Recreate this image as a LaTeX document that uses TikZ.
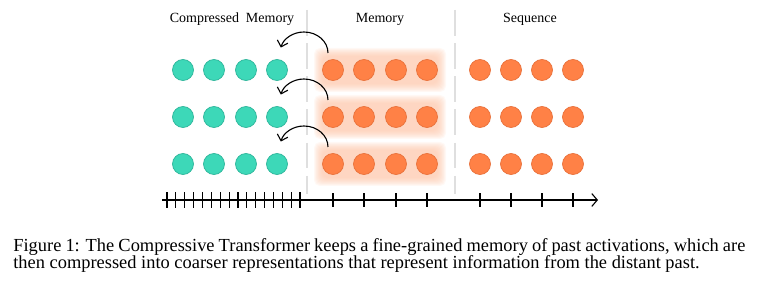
\documentclass[tikz,border=0pt]{standalone}
\usepackage{fontspec}
\setmainfont{Liberation Serif}
\usetikzlibrary{arrows.meta,positioning,calc}
\definecolor{CM}{HTML}{3DD8B8}
\definecolor{CMd}{HTML}{2EB59B}
\definecolor{MO}{HTML}{FF8146}
\definecolor{MOd}{HTML}{E9713B}
\definecolor{GL}{HTML}{FDC4A6}

\begin{document}
\begin{tikzpicture}[x=0.543pt,y=0.543pt,
    dot/.style={circle,minimum size=11.4pt,inner sep=0pt,line width=0.4pt},
    cdot/.style={dot,fill=CM,draw=CMd},
    mdot/.style={dot,fill=MO,draw=MOd},
    lbl/.style={font=\fontsize{7.6}{9}\selectfont,anchor=base,inner sep=0pt},
    captext/.style={font=\fontsize{10}{11}\selectfont,anchor=base west,inner sep=0pt},
    sep/.style={gray!25,line width=0.6pt,dash pattern=on 14pt off 4pt},
    curl/.style={line width=0.6pt,-{Straight Barb[length=3pt,width=6pt]}}]
  \useasboundingbox (0,0) rectangle (758,287);
  % soft glow behind the memory slots
  \foreach \y in {217,170,123}{
    \foreach \k in {0,...,9}{
      \pgfmathsetmacro{\d}{(10-\k)*0.9}
      \fill[GL,opacity=0.11,rounded corners=3pt]
        (323-\d,\y-13-\d) rectangle (437+\d,\y+13+\d);
    }
  }
  \draw[sep] (307,277) -- (307,93);
  \draw[sep] (455,277) -- (455,93);
  % headers
  \node[lbl] (lcomp) at (232,264) {Compressed\ \ Memory};
  \node[lbl] (lmem) at (380,264) {Memory};
  \node[lbl] (lseq) at (530,264) {Sequence};
  % rows of activations
  \foreach \r/\y in {1/217,2/170,3/123}{
    \foreach \i/\x in {1/183,2/214,3/246,4/277}
      \node[cdot] (c\r\i) at (\x,\y) {};
    \foreach \i/\x in {1/333,2/364,3/396,4/427}
      \node[mdot] (m\r\i) at (\x,\y) {};
    \foreach \i/\x in {1/480,2/511,3/542,4/573}
      \node[mdot] (s\r\i) at (\x,\y) {};
    \coordinate (a\r) at ($(m\r1.center)+(-5,17)$);
    \draw[curl] (a\r) arc[start angle=0,end angle=165,x radius=24,y radius=21];
  }
  % time axis
  \coordinate (ax0) at (162,87);
  \coordinate (ax1) at (598,87);
  \draw[line width=0.6pt,-{Straight Barb[length=3pt,width=7pt]}] (ax0) -- (ax1);
  \foreach \i in {0,...,15}
    \draw[line width=0.6pt] (167+\i*8.87,79) -- ++(0,16);
  \foreach \x in {333,364,396,427,480,511,542,573}
    \draw[line width=0.6pt] (\x,80) -- ++(0,14);
  % caption
  \node[captext] (cap1) at (13,35) {\hbox to 397.5pt{Figure 1: The Compressive Transformer keeps a fine-grained memory of past activations, which are}};
  \node[captext] (cap2) at (13,18) {then compressed into coarser representations that represent information from the distant past.};
\end{tikzpicture}
\end{document}
